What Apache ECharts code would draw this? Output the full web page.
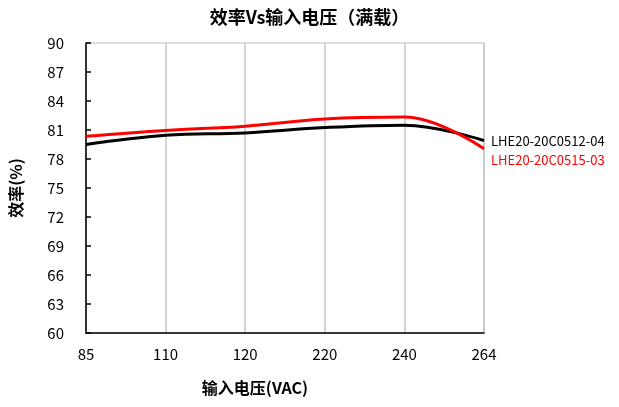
<!DOCTYPE html>
<html><head><meta charset="utf-8">
<script src="https://cdn.jsdelivr.net/npm/echarts@6/dist/echarts.min.js"></script>
<style>html,body{margin:0;padding:0;background:#fff}#c{width:619px;height:407px}</style>
</head><body><div id="c"></div>
<script>
const categories = ['85','110','120','220','240','264'];
const seriesBlackName = 'LHE20-20C0512-04';
const seriesBlack = [79.5, 80.45, 80.7, 81.25, 81.5, 79.9];
const seriesRedName = 'LHE20-20C0515-03';
const seriesRed = [80.35, 80.95, 81.4, 82.15, 82.35, 79.05];
const yTicks = {min: 60, max: 90, interval: 3};

const chart = echarts.init(document.getElementById('c'));
const font = "'Noto Sans CJK SC', 'DejaVu Sans', sans-serif";
chart.setOption({
  animation: false,
  title: {text: '效率Vs输入电压（满载）', left: 'center', top: 3,
    textStyle: {fontFamily: font, fontSize: 18, fontWeight: 'bold', color: '#000'}},
  grid: {left: 84, right: 135, top: 43, bottom: 74, show: true, borderColor: '#bdbdbd', borderWidth: 1},
  xAxis: {type: 'category', data: categories, boundaryGap: false,
    axisLine: {lineStyle: {color: '#000', width: 1.5}},
    axisTick: {show: false},
    splitLine: {show: true, lineStyle: {color: '#c4c4c4', width: 1.5}},
    axisLabel: {color: '#000', fontFamily: font, fontSize: 15, margin: 14},
    name: '输入电压(VAC)', nameLocation: 'middle', nameGap: 47,
    nameTextStyle: {color: '#000', fontFamily: font, fontSize: 16, fontWeight: 'bold', padding: [0, 60, 0, 0]}},
  yAxis: {type: 'value', min: yTicks.min, max: yTicks.max, interval: yTicks.interval,
    axisLine: {show: true, lineStyle: {color: '#000', width: 1.5}},
    axisTick: {show: true, inside: true, length: 5, lineStyle: {color: '#000', width: 1.5}},
    splitLine: {show: false},
    axisLabel: {color: '#000', fontFamily: font, fontSize: 15, margin: 22},
    name: '效率(%)', nameLocation: 'middle', nameGap: 62, nameRotate: 90,
    nameTextStyle: {color: '#000', fontFamily: font, fontSize: 16, fontWeight: 'bold'}},
  series: [
    {name: seriesBlackName, type: 'line', data: seriesBlack, smooth: 0.4, symbol: 'none',
      lineStyle: {color: '#000', width: 3},
      endLabel: {show: true, formatter: '{a}', color: '#000', fontFamily: font, fontSize: 13, distance: 7, offset: [0, 0]}},
    {name: seriesRedName, type: 'line', data: seriesRed, smooth: 0.4, symbol: 'none',
      lineStyle: {color: '#ff0000', width: 3},
      endLabel: {show: true, formatter: '{a}', color: '#ff0000', fontFamily: font, fontSize: 13, distance: 7, offset: [0, 11]}}
  ]
});
</script></body></html>
